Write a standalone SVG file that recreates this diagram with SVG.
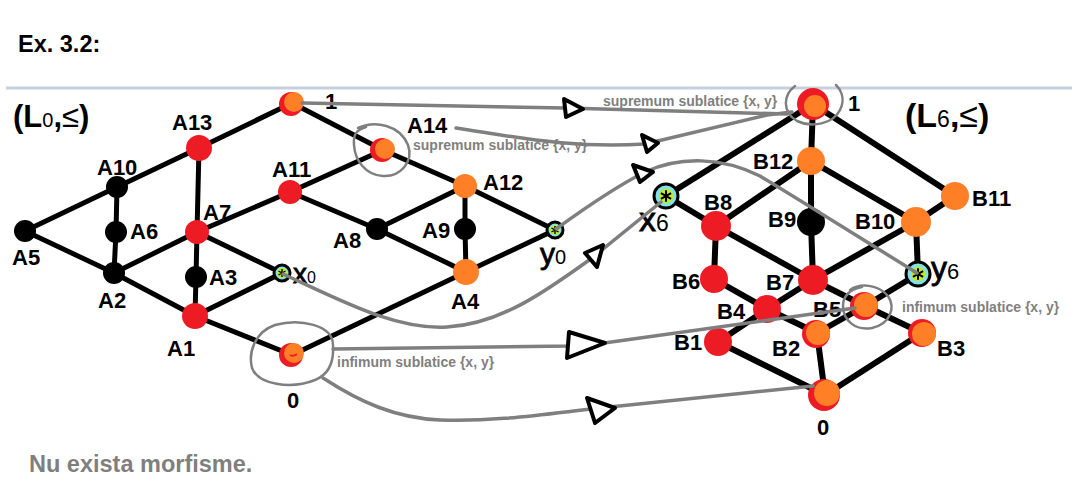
<svg xmlns="http://www.w3.org/2000/svg" width="1079" height="495" viewBox="0 0 1079 495">
<style>
text{font-family:"Liberation Sans",Arial,sans-serif}
.lbl{font-size:22px;font-weight:bold;fill:#000}
.var{font-weight:normal;fill:#000}
.note{font-size:14px;font-weight:bold;fill:#7f7f7f}
.edge{stroke:#000;stroke-width:5;stroke-linecap:round}
.edge6{stroke:#000;stroke-width:6;stroke-linecap:round}
.red{fill:#ed1c24}
.org{fill:#ff7f27}
.blk{fill:#000}
.conn{fill:none;stroke:#7f7f7f;stroke-width:3.5;stroke-linecap:round;stroke-linejoin:round}
.ring{fill:none;stroke:#7f7f7f;stroke-width:2.5;stroke-linecap:round}
.arr{fill:#fff;stroke:#000;stroke-width:4;stroke-linejoin:round}
.cy{fill:#7fe3ec;stroke:#000;stroke-width:3}
</style>
<defs>
<g id="star"><circle r="5" fill="#c4e82a"/><path d="M0,-4V4M-3.5,-2L3.5,2M-3.5,2L3.5,-2" stroke="#000" stroke-width="1.4"/></g>
</defs>
<rect width="1079" height="495" fill="#fff"/>
<text x="18" y="52" font-size="23.5" font-weight="bold">Ex. 3.2:</text>
<line x1="6" y1="88" x2="1072" y2="88" stroke="#c8d0e0" stroke-width="3"/>
<text x="13" y="127" font-size="31" font-weight="bold">(L<tspan font-size="20" font-weight="normal">0</tspan>,<tspan font-weight="normal">≤</tspan>)</text>
<text x="905" y="127" font-size="34" font-weight="bold">(L<tspan font-size="23" font-weight="normal">6</tspan>,<tspan font-weight="normal">≤</tspan>)</text>
<text x="29" y="472" font-size="23.5" font-weight="bold" fill="#7f7f7f">Nu exista morfisme.</text>

<g id="edges-left" class="edge">
<line x1="292" y1="103" x2="199" y2="148"/>
<line x1="199" y1="148" x2="117" y2="187"/>
<line x1="117" y1="187" x2="25" y2="231"/>
<line x1="25" y1="231" x2="114" y2="273"/>
<line x1="117" y1="187" x2="116" y2="232"/>
<line x1="116" y1="232" x2="114" y2="273"/>
<line x1="114" y1="273" x2="197" y2="232"/>
<line x1="197" y1="232" x2="290" y2="192"/>
<line x1="290" y1="192" x2="383" y2="150"/>
<line x1="199" y1="148" x2="197" y2="232"/>
<line x1="197" y1="232" x2="196" y2="277"/>
<line x1="196" y1="277" x2="195" y2="316"/>
<line x1="197" y1="232" x2="282" y2="273"/>
<line x1="114" y1="273" x2="195" y2="316"/>
<line x1="195" y1="316" x2="292" y2="355"/>
<line x1="195" y1="316" x2="282" y2="273"/>
<line x1="292" y1="355" x2="466" y2="272"/>
<line x1="466" y1="272" x2="555" y2="230"/>
<line x1="292" y1="103" x2="383" y2="150"/>
<line x1="383" y1="150" x2="465" y2="186"/>
<line x1="465" y1="186" x2="555" y2="230"/>
<line x1="290" y1="192" x2="377" y2="229"/>
<line x1="377" y1="229" x2="466" y2="272"/>
<line x1="377" y1="229" x2="465" y2="186"/>
<line x1="465" y1="186" x2="465" y2="229"/>
<line x1="465" y1="229" x2="466" y2="272"/>
</g>
<g id="edges-right" class="edge6">
<line x1="813" y1="104" x2="666" y2="196"/>
<line x1="813" y1="104" x2="811" y2="161"/>
<line x1="813" y1="104" x2="955" y2="196"/>
<line x1="811" y1="161" x2="716" y2="226"/>
<line x1="811" y1="161" x2="811" y2="222"/>
<line x1="811" y1="222" x2="813" y2="280"/>
<line x1="811" y1="161" x2="916" y2="222"/>
<line x1="955" y1="196" x2="916" y2="222"/>
<line x1="916" y1="222" x2="813" y2="280"/>
<line x1="813" y1="280" x2="767" y2="309"/>
<line x1="767" y1="309" x2="718" y2="342"/>
<line x1="916" y1="222" x2="918" y2="274"/>
<line x1="666" y1="196" x2="716" y2="226"/>
<line x1="716" y1="226" x2="813" y2="280"/>
<line x1="813" y1="280" x2="865" y2="306"/>
<line x1="865" y1="306" x2="922" y2="333"/>
<line x1="716" y1="226" x2="714" y2="279"/>
<line x1="714" y1="279" x2="767" y2="309"/>
<line x1="767" y1="309" x2="817" y2="333"/>
<line x1="817" y1="333" x2="865" y2="306"/>
<line x1="865" y1="306" x2="918" y2="274"/>
<line x1="817" y1="333" x2="825" y2="395"/>
<line x1="718" y1="342" x2="825" y2="395"/>
<line x1="922" y1="333" x2="825" y2="395"/>
</g>

<g id="n-L1"><circle class="red" cx="291" cy="104" r="12"/><circle class="org" cx="294" cy="102" r="10"/></g>
<g id="n-A13"><circle class="red" cx="199" cy="148" r="13"/></g>
<g id="n-A10"><circle class="blk" cx="117" cy="187" r="11"/></g>
<g id="n-A5"><circle class="blk" cx="25" cy="231" r="11"/></g>
<g id="n-A6"><circle class="blk" cx="116" cy="232" r="11"/></g>
<g id="n-A2"><circle class="blk" cx="114" cy="273" r="11"/></g>
<g id="n-A7"><circle class="red" cx="197" cy="232" r="12"/></g>
<g id="n-A3"><circle class="blk" cx="196" cy="277" r="11"/></g>
<g id="n-A1"><circle class="red" cx="195" cy="316" r="13"/></g>
<g id="n-x0"><circle class="cy" cx="282" cy="273" r="8"/><use href="#star" x="282" y="273"/></g>
<g id="n-A11"><circle class="red" cx="290" cy="192" r="12"/></g>
<g id="n-L0"><circle class="red" cx="291" cy="355" r="12"/><circle class="org" cx="294" cy="353" r="10"/><path d="M290 355 Q293 357 297 354" stroke="#ed1c24" stroke-width="2" fill="none"/></g>
<g id="n-A14"><circle class="red" cx="382" cy="150" r="12"/><circle class="org" cx="385" cy="149" r="10"/></g>
<g id="n-A12"><circle class="org" cx="465" cy="186" r="12"/></g>
<g id="n-A8"><circle class="blk" cx="377" cy="229" r="11"/></g>
<g id="n-A9"><circle class="blk" cx="465" cy="229" r="11"/></g>
<g id="n-A4"><circle class="org" cx="466" cy="272" r="13"/></g>
<g id="n-y0"><circle class="cy" cx="555" cy="230" r="8"/><use href="#star" x="555" y="230"/></g>

<g id="n-R1"><circle class="red" cx="813" cy="104" r="16"/><circle class="org" cx="815" cy="106" r="11"/></g>
<g id="n-B12"><circle class="org" cx="811" cy="161" r="14"/></g>
<g id="n-B11"><circle class="org" cx="955" cy="196" r="14"/></g>
<g id="n-x6"><circle class="cy" cx="666" cy="196" r="12"/><use href="#star" transform="translate(666 196) scale(1.45)"/></g>
<g id="n-B8"><circle class="red" cx="716" cy="226" r="15"/></g>
<g id="n-B9"><circle class="blk" cx="811" cy="222" r="14"/></g>
<g id="n-B10"><circle class="org" cx="916" cy="222" r="15"/></g>
<g id="n-B6"><circle class="red" cx="714" cy="279" r="14"/></g>
<g id="n-B7"><circle class="red" cx="813" cy="280" r="15"/></g>
<g id="n-y6"><circle class="cy" cx="918" cy="274" r="12"/><use href="#star" transform="translate(918 274) scale(1.45)"/></g>
<g id="n-B4"><circle class="red" cx="767" cy="309" r="14"/></g>
<g id="n-B5"><circle class="red" cx="864" cy="306" r="14"/><circle class="org" cx="866" cy="305" r="12"/></g>
<g id="n-B1"><circle class="red" cx="718" cy="342" r="14"/></g>
<g id="n-B2"><circle class="red" cx="816" cy="334" r="14"/><circle class="org" cx="818" cy="333" r="12"/></g>
<g id="n-B3"><circle class="red" cx="922" cy="333" r="14"/><circle class="org" cx="924" cy="334" r="12"/></g>
<g id="n-R0"><circle class="red" cx="824" cy="395" r="16"/><circle class="org" cx="827" cy="393" r="13"/></g>

<g id="labels" class="lbl">
<text x="325" y="109">1</text>
<text x="172" y="130">A13</text>
<text x="97" y="175">A10</text>
<text x="12" y="265">A5</text>
<text x="130" y="239">A6</text>
<text x="98" y="308">A2</text>
<text x="203" y="220">A7</text>
<text x="209" y="285">A3</text>
<text x="167" y="356">A1</text>
<text x="272" y="177">A11</text>
<text x="287" y="408">0</text>
<text x="407" y="133">A14</text>
<text x="483" y="190">A12</text>
<text x="333" y="248">A8</text>
<text x="422" y="238">A9</text>
<text x="451" y="309">A4</text>
<text x="848" y="111">1</text>
<text x="753" y="169">B12</text>
<text x="972" y="206">B11</text>
<text x="704" y="210">B8</text>
<text x="768" y="227">B9</text>
<text x="855" y="229">B10</text>
<text x="672" y="289">B6</text>
<text x="766" y="290">B7</text>
<text x="717" y="319">B4</text>
<text x="813" y="317">B5</text>
<text x="674" y="350">B1</text>
<text x="772" y="356">B2</text>
<text x="937" y="356">B3</text>
<text x="817" y="435">0</text>
</g>
<g id="var-labels" class="var">
<text x="293" y="283" font-size="28" stroke="#000" stroke-width="0.8">x<tspan font-size="16" stroke-width="0">0</tspan></text>
<text x="540" y="264" font-size="30" stroke="#000" stroke-width="0.8">y<tspan font-size="20" stroke-width="0">0</tspan></text>
<text x="639" y="231" font-size="34" stroke="#000" stroke-width="0.8">x<tspan font-size="23" stroke-width="0">6</tspan></text>
<text x="931" y="279" font-size="32" stroke="#000" stroke-width="0.8">y<tspan font-size="22" stroke-width="0">6</tspan></text>
</g>

<g id="rings">
<path class="ring" d="M333 345 C333 325 300 318 275 325 C255 332 248 352 252 368 C258 384 290 390 315 380 C330 374 334 360 333 345 Z"/>
<path class="ring" d="M358 128 C375 120 400 125 408 145 C414 162 400 177 383 176 C365 175 355 160 354 145 C353 135 356 130 366 127"/>
<path class="ring" d="M795 86 C783 95 782 112 797 121 C812 128 833 124 840 110 C846 98 840 89 836 85"/>
<path class="ring" d="M850 290 C860 283 878 284 888 296 C896 308 890 324 872 328 C855 331 843 320 843 306 C843 296 850 289 862 287"/>
</g>

<g id="notes" class="note">
<text x="603" y="106">supremum sublatice {x, y}</text>
<text x="413" y="150">supremum sublatice {x, y}</text>
<text x="337" y="367">infimum sublatice {x, y}</text>
<text x="902" y="312">infimum sublatice {x, y}</text>
</g>

<g id="connectors">
<path class="conn" d="M302 103 L565 108 L787 114"/>
<path class="conn" d="M456 128 C510 136 570 149 645 144 L767 115 L792 112"/>
<path class="conn" d="M556 229 C585 208 615 187 645 172 C680 156 722 157 760 176 C800 200 870 244 917 273"/>
<path class="conn" d="M283 274 C340 300 395 330 447 327 C500 324 545 292 592 258 L661 202"/>
<path class="conn" d="M333 349 L570 346 L604 343 L855 308"/>
<path class="conn" d="M323 378 C360 402 395 418 440 420 C495 422 545 414 600 408 L813 386"/>
<polygon class="arr" points="564,99 583,109 566,117"/>
<polygon class="arr" points="642,135 658,143 647,152"/>
<polygon class="arr" points="633,165 653,172 640,182"/>
<polygon class="arr" points="585,253 603,245 597,267"/>
<polygon class="arr" points="569,332 605,343 567,358"/>
<polygon class="arr" points="587,398 615,408 595,423"/>
</g>
</svg>
